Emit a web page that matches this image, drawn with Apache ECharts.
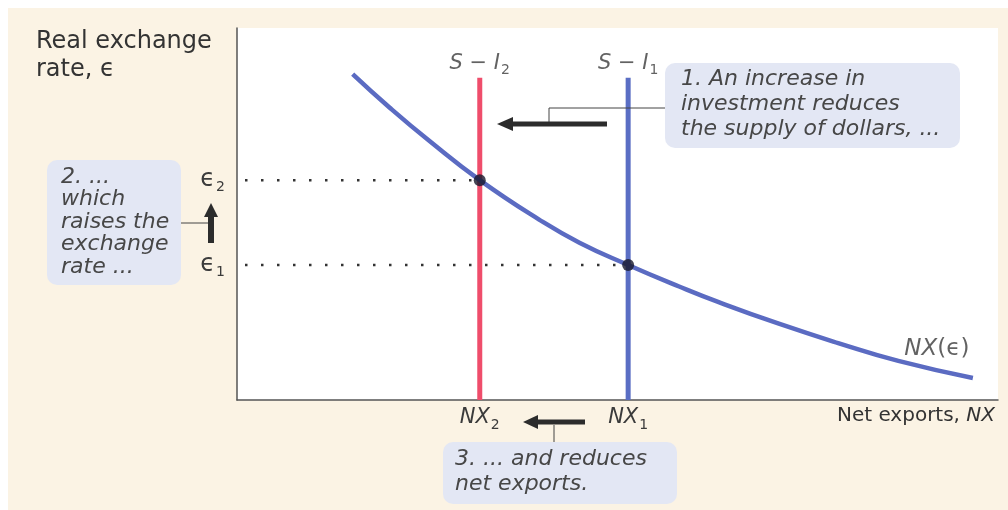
<!DOCTYPE html>
<html>
<head>
<meta charset="utf-8">
<script src="https://cdn.jsdelivr.net/npm/echarts@6/dist/echarts.min.js"></script>
<style>
html,body{margin:0;padding:0;background:#fff;}
#chart{width:1008px;height:510px;}
</style>
</head>
<body>
<div id="chart"></div>
<script>
// ---- data (arbitrary units 0..100) ----
const curveNX   = [15.2, 20.0, 25.3, 31.9, 39.7, 45.0, 51.4, 58.1, 63.3, 71.2, 79.0, 86.9, 96.7];
const curveRate = [87.6, 78.7, 69.6, 59.1, 48.5, 42.3, 36.3, 30.5, 26.3, 20.5, 15.3, 10.5, 5.9];
const nxLevels   = [31.9, 51.4];      // NX2, NX1  (S - I2, S - I1)
const rateLevels = [59.1, 36.3];      // eps2, eps1
const siTop = 86.6;                   // top of the S - I lines
const nxTickLabels   = ['{i|NX}{s|2}', '{i|NX}{s|1}'];
const rateTickLabels = ['{e|ϵ}{s|2}', '{e|ϵ}{s|1}'];
const siLabels = ['{i|S − I}{s|2}', '{i|S − I}{s|1}'];
const curveLabel = '{i|NX}{r|(ϵ)}';

const FONT = '"DejaVu Sans", Verdana, sans-serif';
const TXT = '#3b3b3b';
const BOX = '#e3e7f4';
const ARROW = '#2c2c2c';

const chart = echarts.init(document.getElementById('chart'), null, {renderer: 'canvas'});

const subRich = {
  i: {fontFamily: FONT, fontStyle: 'italic', fontSize: 21, color: TXT},
  e: {fontFamily: FONT, fontSize: 24, color: TXT},
  r: {fontFamily: FONT, fontSize: 21, color: TXT},
  s: {fontFamily: FONT, fontSize: 14, color: TXT, padding: [14, 0, 0, 1]}
};
const curveRich = {
  i: {fontFamily: FONT, fontStyle: 'italic', fontSize: 23, color: TXT},
  r: {fontFamily: FONT, fontSize: 23, color: TXT}
};

const curveData = curveNX.map((x, i) => [x, curveRate[i]]);

function boxText(x, y, lines, lh) {
  return {
    type: 'text', x: x, y: y, z: 20,
    style: {text: lines.join('\n'), font: 'italic 22px ' + FONT, fill: '#474747',
            lineHeight: lh, verticalAlign: 'top', align: 'left'}
  };
}

const option = {
  backgroundColor: '#fbf3e4',
  animation: false,
  grid: {left: 237, right: 10, top: 28, bottom: 110, show: true,
         backgroundColor: '#ffffff', borderWidth: 0},
  xAxis: {
    type: 'value', min: 0, max: 100,
    splitLine: {show: false}, axisTick: {show: false},
    axisLine: {lineStyle: {color: '#555', width: 1.5}},
    axisLabel: {
      customValues: nxLevels, margin: 4,
      formatter: v => nxTickLabels[nxLevels.indexOf(v)] || '',
      rich: subRich
    }
  },
  yAxis: {
    type: 'value', min: 0, max: 100,
    splitLine: {show: false}, axisTick: {show: false},
    axisLine: {lineStyle: {color: '#555', width: 1.5}},
    axisLabel: {
      customValues: rateLevels, margin: 12,
      formatter: v => rateTickLabels[rateLevels.indexOf(v)] || '',
      rich: subRich
    }
  },
  series: [
    // dotted guide lines
    ...rateLevels.map((r, i) => ({
      type: 'line', symbol: 'none', silent: true, z: 1,
      data: [[0, r], [nxLevels[i], r]],
      lineStyle: {color: '#333', width: 2.5, type: [2.5, 13.5], dashOffset: 8}
    })),
    // S - I2 (red) and S - I1 (blue)
    {type: 'line', symbol: 'none', z: 2, data: [[nxLevels[0], 0], [nxLevels[0], siTop]],
     lineStyle: {color: '#ef4d6b', width: 5}},
    {type: 'line', symbol: 'none', z: 2, data: [[nxLevels[1], 0], [nxLevels[1], siTop]],
     lineStyle: {color: '#5a6ec4', width: 5}},
    // NX(eps) curve
    {type: 'line', symbol: 'none', smooth: 0.5, z: 3, data: curveData,
     lineStyle: {color: '#5b6bc2', width: 4.5}},
    // equilibrium points
    {type: 'scatter', z: 5, symbolSize: 12,
     data: nxLevels.map((x, i) => [x, rateLevels[i]]),
     itemStyle: {color: '#18182c'}},
    // text labels anchored to data
    {type: 'scatter', z: 6, symbolSize: 0.1, itemStyle: {color: 'rgba(0,0,0,0)'}, silent: true,
     data: [
       {value: [nxLevels[0], siTop], label: {show: true, position: 'top', distance: 0,
         formatter: siLabels[0], rich: subRich}},
       {value: [nxLevels[1], siTop], label: {show: true, position: 'top', distance: 0,
         formatter: siLabels[1], rich: subRich}},
       {value: curveData[curveData.length - 1], label: {show: true, position: 'inside',
         offset: [-36, -29], formatter: curveLabel, rich: curveRich}}
     ]}
  ],
  graphic: [
    // white outer margins
    {type: 'rect', shape: {x: 0, y: 0, width: 1008, height: 8}, style: {fill: '#fff'}, z: 100, silent: true},
    {type: 'rect', shape: {x: 0, y: 0, width: 8, height: 510}, style: {fill: '#fff'}, z: 100, silent: true},
    // axis names
    {type: 'text', x: 36, y: 28, z: 20,
     style: {text: 'Real exchange\nrate, ϵ', font: '24px ' + FONT, fill: '#333', lineHeight: 28,
             verticalAlign: 'top', align: 'left'}},
    {type: 'text', x: 995, y: 416, z: 20,
     style: {text: '{r|Net exports, }{i|NX}', align: 'right', verticalAlign: 'middle',
             rich: {r: {fontFamily: FONT, fontSize: 20, fill: '#333'},
                    i: {fontFamily: FONT, fontStyle: 'italic', fontSize: 20, fill: '#333'}}}},
    // box 1
    {type: 'rect', z: 10, shape: {x: 665, y: 63, width: 295, height: 85, r: 10}, style: {fill: BOX}},
    boxText(681, 67, ['1. An increase in', 'investment reduces', 'the supply of dollars, ...'], 25),
    {type: 'polyline', z: 10, shape: {points: [[665, 108], [549, 108], [549, 122]]},
     style: {stroke: '#444', lineWidth: 1, fill: null}},
    {type: 'rect', z: 11, shape: {x: 508, y: 121.5, width: 99, height: 5}, style: {fill: ARROW}},
    {type: 'polygon', z: 11, shape: {points: [[497, 124], [513, 117], [513, 131]]}, style: {fill: ARROW}},
    // box 2
    {type: 'rect', z: 10, shape: {x: 47, y: 160, width: 134, height: 125, r: 10}, style: {fill: BOX}},
    boxText(61, 166, ['2. ...', 'which', 'raises the', 'exchange', 'rate ...'], 22.5),
    {type: 'polyline', z: 10, shape: {points: [[181, 223], [208, 223]]},
     style: {stroke: '#444', lineWidth: 1, fill: null}},
    {type: 'rect', z: 11, shape: {x: 208, y: 214, width: 6, height: 29}, style: {fill: ARROW}},
    {type: 'polygon', z: 11, shape: {points: [[211, 203], [204, 217], [218, 217]]}, style: {fill: ARROW}},
    // box 3
    {type: 'rect', z: 10, shape: {x: 443, y: 442, width: 234, height: 62, r: 10}, style: {fill: BOX}},
    boxText(455, 447, ['3. ... and reduces', 'net exports.'], 25),
    {type: 'polyline', z: 10, shape: {points: [[554, 425], [554, 442]]},
     style: {stroke: '#444', lineWidth: 1, fill: null}},
    {type: 'rect', z: 11, shape: {x: 534, y: 419.5, width: 51, height: 5}, style: {fill: ARROW}},
    {type: 'polygon', z: 11, shape: {points: [[523, 422], [538, 415], [538, 429]]}, style: {fill: ARROW}}
  ]
};
chart.setOption(option);
</script>
</body>
</html>
